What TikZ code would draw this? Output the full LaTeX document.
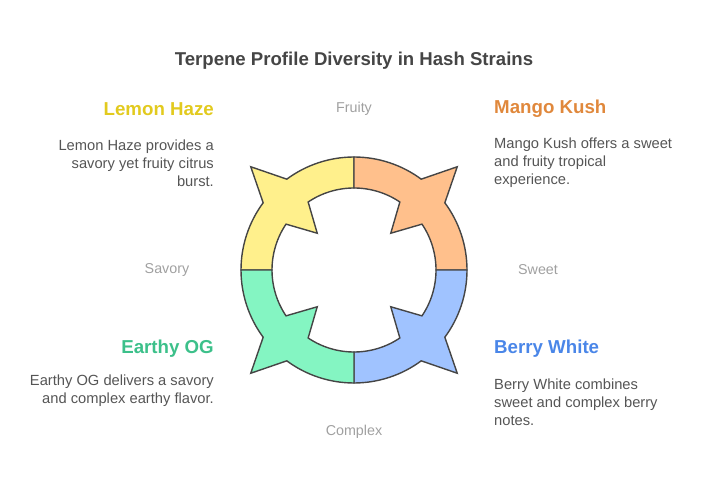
\documentclass[tikz,border=0pt]{standalone}
\usepackage{fontspec}
\setmainfont{Liberation Sans}
\usetikzlibrary{positioning}
\definecolor{inkgray}{HTML}{454545}
\definecolor{textgray}{HTML}{555555}
\definecolor{axisgray}{HTML}{A0A0A0}
\definecolor{lemonfill}{HTML}{FFF08C}
\definecolor{mangofill}{HTML}{FFC08C}
\definecolor{berryfill}{HTML}{A0C3FF}
\definecolor{earthyfill}{HTML}{84F5C2}
\definecolor{lemonink}{HTML}{E2CA1E}
\definecolor{mangoink}{HTML}{E0883C}
\definecolor{berryink}{HTML}{4A86E8}
\definecolor{earthyink}{HTML}{3CC08A}
\tikzstyle{heading} = [inner sep=0pt, font=\fontsize{18.7}{22}\selectfont\bfseries]
\tikzstyle{desc} = [inner sep=0pt, text=textgray, font=\fontsize{14.7}{18}\selectfont]
\tikzstyle{axis} = [inner sep=0pt, text=axisgray, font=\fontsize{14.3}{17}\selectfont]
\tikzstyle{segment} = [draw=inkgray, line width=1.4pt, line join=miter]
% one quadrant of the ring, centred on angle #1
\newcommand{\ringpart}[2]{%
  \filldraw[segment, fill=#2, shift={(hub)}]
    (#1+45:113) arc[start angle=#1+45, end angle=#1+8.5, radius=113]
    -- (#1:146) -- (#1-8.5:113)
    arc[start angle=#1-8.5, end angle=#1-45, radius=113]
    -- (#1-45:82) arc[start angle=#1-45, end angle=#1-11, radius=82]
    -- (#1:52) -- (#1+11:82)
    arc[start angle=#1+11, end angle=#1+45, radius=82] -- cycle;}

\begin{document}
\begin{tikzpicture}[x=1pt, y=1pt]
\useasboundingbox (0,0) rectangle (708,492);
\coordinate (hub) at (354,222);

\ringpart{135}{lemonfill}
\ringpart{45}{mangofill}
\ringpart{-45}{berryfill}
\ringpart{225}{earthyfill}

\node (title) at (354,431) [inner sep=0pt, text=inkgray, font=\fontsize{18.6}{22}\selectfont\bfseries]
  {Terpene Profile Diversity in Hash Strains};

\node (fruity) at (354,383) [axis] {Fruity};
\node (sweet) at (538,222) [axis] {Sweet};
\node (complex) at (354,60) [axis] {Complex};
\node (savory) at (167,222) [axis] {Savory};

\node (lemonhead) at (214,383) [heading, anchor=east, text=lemonink] {Lemon Haze};
\node (lemondesc) at (214,329) [desc, anchor=east, align=right]
  {Lemon Haze provides a\\savory yet fruity citrus\\burst.};

\node (mangohead) at (494,383) [heading, anchor=west, text=mangoink] {Mango Kush};
\node (mangodesc) at (494,329) [desc, anchor=west, align=left]
  {Mango Kush offers a sweet\\and fruity tropical\\experience.};

\node (earthyhead) at (214,143) [heading, anchor=east, text=earthyink] {Earthy OG};
\node (earthydesc) at (214,101) [desc, anchor=east, align=right]
  {Earthy OG delivers a savory\\and complex earthy flavor.};

\node (berryhead) at (494,143) [heading, anchor=west, text=berryink] {Berry White};
\node (berrydesc) at (494,90) [desc, anchor=west, align=left]
  {Berry White combines\\sweet and complex berry\\notes.};
\end{tikzpicture}
\end{document}
